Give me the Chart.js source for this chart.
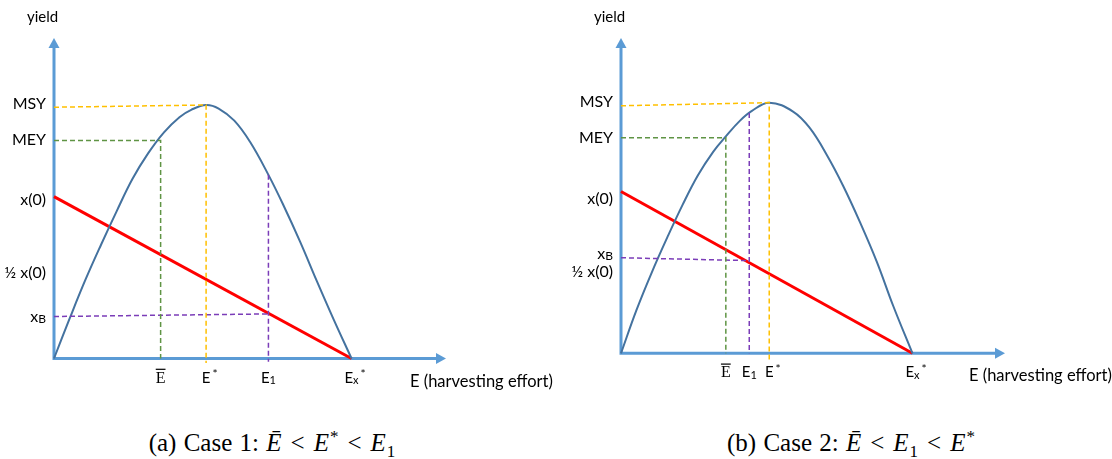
<!DOCTYPE html>
<html>
<head>
<meta charset="utf-8">
<script src="https://cdn.jsdelivr.net/npm/chart.js@4.4.1/dist/chart.umd.min.js"></script>
<style>
  html, body { margin: 0; padding: 0; background: #fff; width: 1112px; height: 459px; overflow: hidden; }
  .panel { position: absolute; top: 0; width: 556px; height: 400px; }
  #pa { left: 0; }
  #pb { left: 556px; }
  .cap { position: absolute; top: 430px; width: 420px; text-align: center; white-space: nowrap;
         font-family: "Liberation Serif", serif; font-size: 25px; line-height: 25px; color: #000;
         word-spacing: 1px; }
  .cap i { font-style: italic; }
  .cap .rel { display: inline-block; margin: 0 9px; }
  .cap sub, .cap sup { font-size: 17px; line-height: 0; margin-left: 1px; }
  #capA { left: 62px; }
  #capB { left: 641px; }
</style>
</head>
<body>
<div class="panel" id="pa"><canvas id="ca" width="556" height="400"></canvas></div>
<div class="panel" id="pb"><canvas id="cb" width="556" height="400"></canvas></div>
<div class="cap" id="capA">(a) Case 1: <i>Ē</i><span class="rel">&lt;</span><i>E</i><sup>*</sup><span class="rel">&lt;</span><i>E</i><sub>1</sub></div>
<div class="cap" id="capB">(b) Case 2: <i>Ē</i><span class="rel">&lt;</span><i>E</i><sub>1</sub><span class="rel">&lt;</span><i>E</i><sup>*</sup></div>
<script>
// Effort (x) and yield (y) are in relative units, both axes running 0..100.

// ---- Case 1 ----
const yieldCurveA = [[0,0],[4,12.5],[8,24.5],[12,35.5],[16,46],[20,56],[24,64],[28,70.5],[32,75.3],[35,77.6],[38.8,79.1],[42,78],[46,74.2],[50,67.6],[54.7,57.3],[58.5,47.9],[62.8,36.4],[67,24.3],[71.3,12.3],[75.9,0]];
const stockLineA   = [[0,50.5],[75.9,0]];
const msyGuideA    = [[0,78.4],[38.8,79.1],[38.8,-1.4]];
const meyGuideA    = [[0,68.0],[27.2,68.0],[27.2,0]];
const e1GuideA     = [[54.7,57.3],[54.7,-1.0]];
const xbGuideA     = [[0,13.1],[54.7,13.9]];
const yTickLabelsA = ['MSY','MEY','x(0)','½ x(0)','x_B'];
const yTickValuesA = [79.6, 68.4, 49.7, 26.8, 13.3];
const xTickLabelsA = ['Ē','E^*','E_1','E_x^*'];
const xTickValuesA = [27.2, 38.8, 54.7, 75.9];

// ---- Case 2 ----
const yieldCurveB = [[0,0],[4,13.6],[8,25.6],[12,36.6],[16,47.0],[20,56.4],[24,63.9],[27.3,68.8],[31,73.8],[34,76.8],[38.6,79.5],[44.9,76.6],[49.2,71.4],[53.6,62.9],[57.9,53.0],[62.2,41.7],[66.6,29.1],[70.9,15.0],[75.9,0]];
const stockLineB   = [[0,51.3],[75.9,0]];
const msyGuideB    = [[0,78.5],[38.6,79.5],[38.6,-2.1]];
const meyGuideB    = [[0,68.4],[27.3,68.4],[27.3,0]];
const e1GuideB     = [[33.4,76.2],[33.4,0]];
const xbGuideB     = [[0,30.3],[33.4,29.4]];
const yTickLabelsB = ['MSY','MEY','x(0)','x_B','½ x(0)'];
const yTickValuesB = [79.8, 68.5, 49.2, 31.9, 25.9];
const xTickLabelsB = ['Ē','E_1','E^*','E_x^*'];
const xTickValuesB = [27.3, 33.4, 38.6, 75.9];

const yAxisTitle = 'yield';
const xAxisTitle = 'E (harvesting effort)';

const AXIS = '#5B9BD5', CURVE = '#44729F', RED = '#FF0000';
const GOLD = '#FFC000', GREEN = '#5F9444', PURPLE = '#7B3DB8';
const SANS = 'Lato, "Open Sans", sans-serif';

const pts = arr => arr.map(p => ({ x: p[0], y: p[1] }));

// Draw a label such as "E_x^*" (base, optional subscript, optional superscript).
function drawRich(ctx, label, x, baseline, size, align) {
  if (label === 'Ē') {
    ctx.font = `${size + 1}px "Liberation Serif", serif`;
    const w = ctx.measureText('E').width;
    const left = align === 'right' ? x - w : x - w / 2;
    ctx.fillText('E', left, baseline);
    ctx.fillRect(left, baseline - size * 0.92, w, 1.2);
    return;
  }
  let base = label, sub = '', sup = '';
  const iSup = base.indexOf('^');
  if (iSup >= 0) { sup = base.slice(iSup + 1); base = base.slice(0, iSup); }
  const iSub = base.indexOf('_');
  if (iSub >= 0) { sub = base.slice(iSub + 1); base = base.slice(0, iSub); }
  const subSize = Math.round(size * 0.72), supSize = Math.round(size * 0.8);
  ctx.font = `${size}px ${SANS}`;
  const bw = ctx.measureText(base).width;
  ctx.font = `${subSize}px ${SANS}`;
  const sw = sub ? ctx.measureText(sub).width : 0;
  ctx.font = `${supSize}px ${SANS}`;
  const pw = sup ? ctx.measureText(sup).width + 2 : 0;
  const left = align === 'right' ? x - (bw + sw + pw) : x - (bw + sw) / 2;
  ctx.font = `${size}px ${SANS}`;
  ctx.fillText(base, left, baseline);
  if (sub) {
    ctx.font = `${subSize}px ${SANS}`;
    ctx.fillText(sub, left + bw, baseline + size * 0.1);
  }
  if (sup) {
    ctx.font = `${supSize}px ${SANS}`;
    ctx.fillText(sup, left + bw + sw + 2, baseline - size * 0.32);
  }
}

// Axes with arrowheads under the data lines, labels on top.
const axesPlugin = {
  id: 'arrowAxes',
  beforeDatasetsDraw(chart) {
    const { ctx, chartArea: a } = chart;
    const ox = chart.scales.x.getPixelForValue(0);
    const oy = chart.scales.y.getPixelForValue(0);
    ctx.save();
    ctx.strokeStyle = AXIS; ctx.fillStyle = AXIS; ctx.lineWidth = 3;
    ctx.beginPath();
    ctx.moveTo(ox, oy + 1.5); ctx.lineTo(ox, a.top + 9);
    ctx.moveTo(ox - 1.5, oy); ctx.lineTo(a.right - 9, oy);
    ctx.stroke();
    ctx.beginPath();
    ctx.moveTo(ox - 5.5, a.top + 10); ctx.lineTo(ox + 5.5, a.top + 10); ctx.lineTo(ox, a.top); ctx.closePath();
    ctx.fill();
    ctx.beginPath();
    ctx.moveTo(a.right - 10, oy - 5.5); ctx.lineTo(a.right - 10, oy + 5.5); ctx.lineTo(a.right, oy); ctx.closePath();
    ctx.fill();
    ctx.restore();
  },
  afterDraw(chart, args, opts) {
    const { ctx, chartArea: a } = chart;
    const sx = chart.scales.x, sy = chart.scales.y;
    const ox = sx.getPixelForValue(0), oy = sy.getPixelForValue(0);
    ctx.save();
    ctx.fillStyle = '#000';
    ctx.textBaseline = 'alphabetic';
    ctx.textAlign = 'left';
    opts.yLabels.forEach((t, i) => {
      const py = sy.getPixelForValue(opts.yValues[i]);
      drawRich(ctx, t, ox - 8, py + 5.8, 16, 'right');
    });
    opts.xLabels.forEach((t, i) => {
      const px = sx.getPixelForValue(opts.xValues[i]);
      drawRich(ctx, t, px, oy + 24, 15, 'center');
    });
    ctx.font = `15px ${SANS}`;
    ctx.fillText(yAxisTitle, ox - 27, 22);
    ctx.font = `16.5px ${SANS}`;
    ctx.fillText(xAxisTitle, a.right - 36, oy + 28);
    ctx.restore();
  }
};

function guide(data, color) {
  return { data: pts(data), borderColor: color, borderWidth: 1.5, borderDash: [5, 3],
           pointRadius: 0, fill: false, clip: false, tension: 0 };
}

function makePanel(id, pad, d, labels) {
  return new Chart(document.getElementById(id), {
    type: 'line',
    data: {
      datasets: [
        guide(d.msy, GOLD),
        guide(d.mey, GREEN),
        guide(d.e1, PURPLE),
        guide(d.xb, PURPLE),
        { data: pts(d.curve), borderColor: CURVE, borderWidth: 2, pointRadius: 0, fill: false,
          clip: false, tension: 0.4 },
        { data: pts(d.stock), borderColor: RED, borderWidth: 3, pointRadius: 0, fill: false,
          clip: false, tension: 0 }
      ]
    },
    options: {
      responsive: false, animation: false, events: [],
      layout: { padding: pad },
      scales: {
        x: { type: 'linear', min: 0, max: 100, display: false },
        y: { type: 'linear', min: 0, max: 100, display: false }
      },
      plugins: { legend: { display: false }, tooltip: { enabled: false }, arrowAxes: labels }
    },
    plugins: [axesPlugin]
  });
}

makePanel('ca', { left: 54, right: 110, top: 38, bottom: 41.5 },
  { curve: yieldCurveA, stock: stockLineA, msy: msyGuideA, mey: meyGuideA, e1: e1GuideA, xb: xbGuideA },
  { yLabels: yTickLabelsA, yValues: yTickValuesA, xLabels: xTickLabelsA, xValues: xTickValuesA });

makePanel('cb', { left: 65, right: 107, top: 38, bottom: 46.7 },
  { curve: yieldCurveB, stock: stockLineB, msy: msyGuideB, mey: meyGuideB, e1: e1GuideB, xb: xbGuideB },
  { yLabels: yTickLabelsB, yValues: yTickValuesB, xLabels: xTickLabelsB, xValues: xTickValuesB });
</script>
</body>
</html>
